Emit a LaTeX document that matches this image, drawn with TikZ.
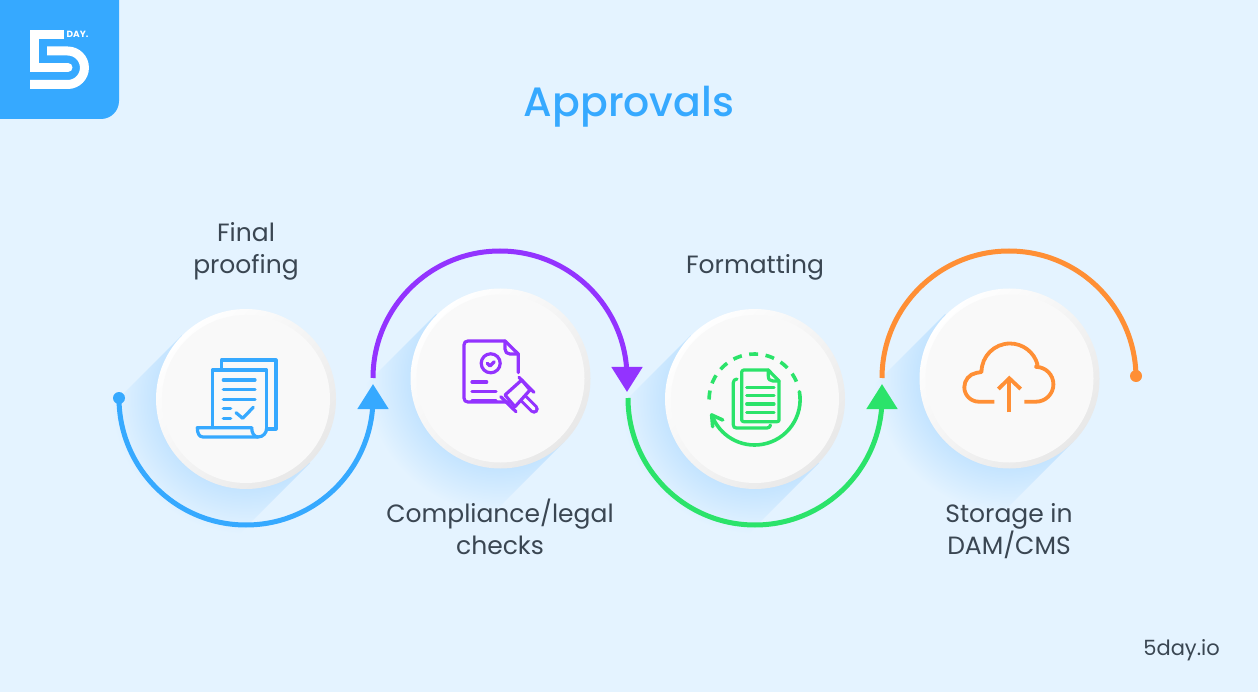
\documentclass[tikz,border=0pt]{standalone}
\usepackage{fontspec}
\setmainfont{Poppins}
\newfontfamily\titlefont{Poppins Medium}
\usetikzlibrary{arrows.meta}
\definecolor{bgcol}{HTML}{E4F3FF}
\definecolor{bluecol}{HTML}{36A9FF}
\definecolor{purplecol}{HTML}{9333FF}
\definecolor{greencol}{HTML}{2BE36A}
\definecolor{orangecol}{HTML}{FF8F35}
\definecolor{shadowcol}{HTML}{C2E3FF}
\definecolor{textcol}{HTML}{3A4652}
\definecolor{facecol}{HTML}{F9F9F9}
\pgfdeclareradialshading{halo}{\pgfpointorigin}{color(0bp)=(shadowcol); color(16bp)=(shadowcol); color(25bp)=(bgcol); color(50bp)=(bgcol)}
\tikzset{
  rim/.style={circle,minimum size=180pt,inner sep=0pt,top color=white,bottom color=black!9,shading angle=45},
  face/.style={circle,minimum size=168pt,inner sep=0pt,fill=facecol},
  label/.style={text=textcol,font=\fontsize{25}{32}\selectfont,align=center},
  flow/.style={line width=5pt},
  tip/.style={-{Triangle[length=25pt,width=30pt]}},
  icon/.style={line width=3.2pt,line cap=round,line join=round}
}
\begin{document}
\begin{tikzpicture}[x=1pt,y=-1pt]
\fill[bgcol] (0,0) rectangle (1258,692);

% logo
\fill[bluecol] (0,0) -- (119,0) -- (119,101) arc[start angle=0,end angle=90,radius=18] -- (0,119) -- cycle;
\draw[white,line width=9pt,line join=miter] (64,34.5) -- (34.5,34.5) -- (34.5,67.5) -- (68,67.5);
\fill[white] (68,63) arc[start angle=-90,end angle=90,radius=4.5] -- cycle;
\draw[white,line width=9pt] (47,51) -- (67.7,51) arc[start angle=-90,end angle=90,radius=16.75] -- (30,84.5);
\node[text=white,font=\fontsize{9}{10}\selectfont\bfseries,inner sep=0pt] (logotext) at (77.5,34.5) {DAY.};

\node[text=bluecol,font=\titlefont\fontsize{41}{50}\selectfont] (title) at (629,107) {Approvals};

% shadows
\foreach \cx/\cy in {246/399,500/378,755/399,1009/378} {
  \begin{scope}
    \clip (\cx+64,\cy+64) -- (\cx-64,\cy-64) -- (\cx-164,\cy+36) -- (\cx-36,\cy+164) -- cycle;
    \shade[shading=halo] (\cx,\cy) circle (135);
  \end{scope}
}

\node[rim] (proof) at (246,399) {};
\node[rim] (legal) at (500.5,378.5) {};
\node[rim] (format) at (755,399) {};
\node[rim] (store) at (1009.5,378.5) {};
\node[face] at (proof) {};
\node[face] at (legal) {};
\node[face] at (format) {};
\node[face] at (store) {};

% arcs
\coordinate (astart) at (119,398);
\coordinate (atip) at (373,384);
\coordinate (bstart) at (373,378);
\coordinate (btip) at (627,392);
\coordinate (cstart) at (628,398);
\coordinate (ctip) at (882,384);
\coordinate (dstart) at (882,378);
\coordinate (dend) at (1136,376);

\fill[bluecol] (astart) circle (6);
\draw[flow,tip,bluecol] (astart) arc[start angle=180,end angle=0,radius=127] -- (atip);
\draw[flow,tip,purplecol] (bstart) arc[start angle=180,end angle=360,radius=127] -- (btip);
\draw[flow,tip,greencol] (cstart) arc[start angle=180,end angle=0,radius=127] -- (ctip);
\draw[flow,orangecol] (dstart) arc[start angle=180,end angle=360,radius=127] -- (dend);
\fill[orangecol] (dend) circle (6);

% icon: papers
\draw[icon,bluecol] (221.7,369) -- (221.7,360) -- (276,360) -- (276,429) -- (267,429);
\draw[icon,bluecol] (212.3,427) -- (212.3,370) -- (266.7,370) -- (266.7,428);
\draw[icon,bluecol] (251.7,427.7) -- (197.3,427.7) .. controls (197.3,433) and (199,437) .. (203,437) -- (258,437) .. controls (263,437) and (266.7,433) .. (266.7,428);
\draw[icon,bluecol] (251.7,427.7) .. controls (251.7,433) and (254,437) .. (258,437);
\draw[icon,bluecol] (223.3,380) -- (255,380) (223.3,389.3) -- (255,389.3) (223.3,399.3) -- (255,399.3);
\draw[icon,bluecol] (223.3,408.7) -- (230.7,408.7) (223.3,418.3) -- (230.7,418.3);
\draw[icon,bluecol] (236,412.7) -- (242.7,418.3) -- (253.3,407.3);

% icon: document and gavel
\draw[icon,purplecol] (518.3,372.7) -- (518.3,354) -- (505,341) -- (468,341) .. controls (465.5,341) and (464,342.5) .. (464,345) -- (464,398) .. controls (464,400.5) and (465.5,402) .. (468,402) -- (509.3,402);
\draw[icon,purplecol] (505,341) -- (505,349) .. controls (505,352) and (507,354) .. (510,354) -- (518.3,354);
\draw[icon,purplecol] (490.7,363.3) circle (9.5);
\draw[icon,purplecol] (487.3,363.3) -- (490,366) -- (494.3,361.7);
\draw[icon,purplecol] (472,382) -- (486.7,382) (472,391.3) -- (496,391.3) (472,400.7) -- (496,400.7);
\draw[line width=9.5pt,line cap=round,purplecol] (524,399) -- (534,409);
\draw[line width=3.4pt,line cap=round,facecol] (524,399) -- (534,409);
\draw[icon,purplecol,fill=facecol] (505,395) -- (521.7,380) -- (530,390) -- (515,406.7) -- cycle;
\draw[icon,purplecol] (500.7,396.7) -- (516,411.7) (519,377.3) -- (534,392.3);

% icon: pages in a cycle
\draw[icon,greencol,line width=3.6pt,line cap=butt,dash pattern=on 9pt off 7.5pt] (709.1,399.5) arc[start angle=180,end angle=340,radius=45.5];
\draw[icon,greencol,line width=3.6pt] (799.4,391.6) arc[start angle=-10,end angle=160,radius=45.5];
\draw[icon,greencol,line width=3.6pt] (722.7,420) -- (711.7,415) -- (712.7,426.7);
\draw[icon,greencol] (768.3,370) -- (744,370) .. controls (742.5,370) and (741.7,371) .. (741.7,372) -- (741.7,420) .. controls (741.7,421) and (742.5,421.7) .. (744,421.7) -- (777,421.7) .. controls (778.3,421.7) and (779,421) .. (779,420) -- (779,381) -- cycle;
\draw[icon,greencol] (768.3,370) -- (768.3,376) .. controls (768.3,379.5) and (770,381) .. (773,381) -- (779,381);
\draw[icon,greencol] (746.7,387.7) -- (774,387.7) (746.7,395.7) -- (774,395.7) (746.7,404) -- (774,404) (746.7,412.3) -- (774,412.3);
\draw[icon,greencol] (737,379) .. controls (735,379) and (733.3,380.5) .. (733.3,382.5) -- (733.3,425) .. controls (733.3,427) and (734.5,428) .. (736.5,428) -- (767,428) .. controls (769,428) and (770,427) .. (770.5,425);

% icon: cloud
\draw[icon,orangecol,line width=3.8pt,line cap=butt] (994.3,401.7) -- (978.8,401.7) arc[start angle=90,end angle=260,radius=14.5] -- (981.5,372) arc[start angle=180,end angle=345,radius=28.5] -- (1036,366.9) arc[start angle=-90,end angle=90,radius=17.4] -- (1024.3,401.7);
\draw[icon,orangecol,line width=3.8pt,line cap=butt] (1009.3,412.3) -- (1009.3,379);
\draw[icon,orangecol,line width=3.8pt,line cap=butt,line join=miter] (998.3,389) -- (1009.3,378.3) -- (1020.7,389);

% labels
\node[label] (proofing) at (246,251) {Final\\proofing};
\node[label] (legaltext) at (500,527) {Compliance/legal\\checks};
\node[label] (formattext) at (755,267) {Formatting};
\node[label] (storetext) at (1009,531) {Storage in\\DAM/CMS};
\node[text=textcol,font=\fontsize{21}{26}\selectfont,inner sep=0pt,anchor=east] (site) at (1220,650) {5day.io};
\end{tikzpicture}
\end{document}
